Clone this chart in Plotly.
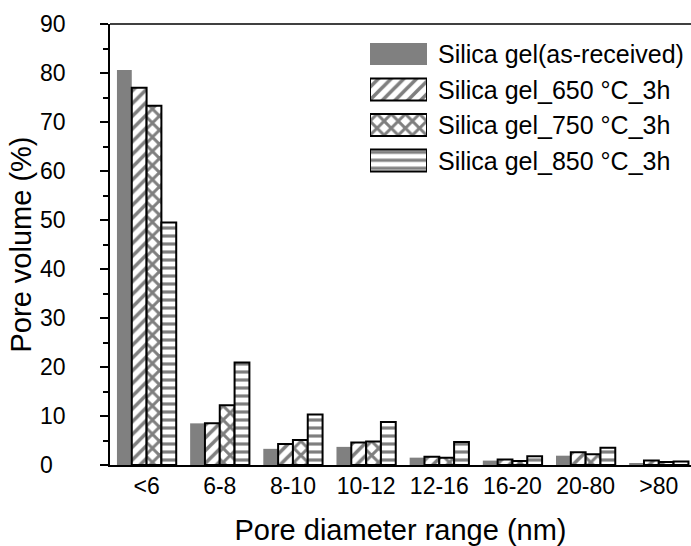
import plotly.graph_objects as go

# Pore diameter ranges (nm) and pore volume fractions (%) per sample
categories = ["<6", "6-8", "8-10", "10-12", "12-16", "16-20", "20-80", ">80"]
series_names = [
    "Silica gel(as-received)",
    "Silica gel_650 °C_3h",
    "Silica gel_750 °C_3h",
    "Silica gel_850 °C_3h",
]
as_received = [80.6, 8.5, 3.3, 3.7, 1.5, 0.9, 1.9, 0.4]
heat_650 = [77.0, 8.5, 4.3, 4.6, 1.7, 1.1, 2.6, 0.9]
heat_750 = [73.3, 12.2, 5.1, 4.8, 1.5, 0.8, 2.2, 0.6]
heat_850 = [49.5, 20.9, 10.3, 8.8, 4.7, 1.8, 3.5, 0.7]
y_ticks = [0, 10, 20, 30, 40, 50, 60, 70, 80, 90]

series_values = [as_received, heat_650, heat_750, heat_850]

FONT = "Liberation Sans, Arial, sans-serif"
GRAY = "#808080"

# fill style per series: solid grey, then three hatched patterns
styles = [
    dict(color=GRAY, line=dict(color=GRAY, width=0)),
    dict(color="white", line=dict(color="black", width=2),
         pattern=dict(shape="/", size=9, solidity=0.4, fgcolor="black", bgcolor="white")),
    dict(color="white", line=dict(color="black", width=2),
         pattern=dict(shape="x", size=10, solidity=0.5, fgcolor="black", bgcolor="white")),
    dict(color="white", line=dict(color="black", width=2),
         pattern=dict(shape="-", size=8, solidity=0.4, fgcolor="black", bgcolor="white")),
]

fig = go.Figure()
for name, vals, st in zip(series_names, series_values, styles):
    fig.add_trace(go.Bar(
        x=categories, y=vals, name=name, marker=st,
        showlegend=False, xaxis="x", yaxis="y",
    ))

# key swatches: one full-width bar per series on a small inset axis
swatch_rows = [0, 1, 2, 3]
swatch_len = [1, 1, 1, 1]
for row, length, st, name in zip(swatch_rows, swatch_len, styles, series_names):
    fig.add_trace(go.Bar(
        x=[length], y=[row], orientation="h", marker=st, width=0.62,
        showlegend=False, xaxis="x2", yaxis="y2", hoverinfo="skip", name=name,
    ))

W, H = 691, 546
L, R, T, B = 110, 0, 24, 81
pw, ph = W - L - R, H - T - B

def px_x(p):
    return (p - L) / pw

def px_y(p):
    return (H - B - p) / ph

annotations = []
for row, name in zip(swatch_rows, series_names):
    annotations.append(dict(
        x=px_x(436), xref="paper", y=row, yref="y2", text=name,
        showarrow=False, xanchor="left", yanchor="middle",
        font=dict(family=FONT, size=25, color="black"),
    ))

fig.update_layout(
    width=W, height=H,
    margin=dict(l=L, r=R, t=T, b=B, pad=0),
    paper_bgcolor="white", plot_bgcolor="white",
    barmode="group", bargap=0.19, bargroupgap=0,
    font=dict(family=FONT, color="black"),
    xaxis=dict(
        type="category",
        range=[-0.5, 7.44], showline=True, linecolor="black", linewidth=1.5,
        ticks="", showgrid=False, zeroline=False,
        tickfont=dict(size=23, family=FONT, color="black"),
        title=dict(text="Pore diameter range (nm)", standoff=21,
                   font=dict(size=29, family=FONT, color="black")),
    ),
    yaxis=dict(
        range=[0, 90], tickvals=y_ticks,
        ticktext=["0\u00a0\u00a0"] + [str(v) for v in y_ticks[1:]],
        showline=True, linecolor="black", linewidth=1.5,
        ticks="outside", ticklen=8, tickwidth=1.5, tickcolor="black",
        minor=dict(dtick=5, ticks="outside", ticklen=5, tickwidth=1.5, tickcolor="black"),
        showgrid=False, zeroline=False,
        ticklabelstandoff=30,
        tickfont=dict(size=23, family=FONT, color="black"),
        title=dict(text="Pore volume (%)", standoff=0,
                   font=dict(size=29, family=FONT, color="black")),
    ),
    xaxis2=dict(type="linear", domain=[px_x(370), px_x(427)], range=[0, 1],
                visible=False, anchor="y2", fixedrange=True),
    yaxis2=dict(type="linear", domain=[px_y(178.25), px_y(36.25)], range=[3.5, -0.5],
                visible=False, anchor="x2", fixedrange=True),
    annotations=annotations,
    shapes=[dict(type="line", xref="paper", yref="paper", x0=0, x1=1, y0=1, y1=1,
                 line=dict(color="black", width=1.5))],
)

fig.write_html("out.html")
